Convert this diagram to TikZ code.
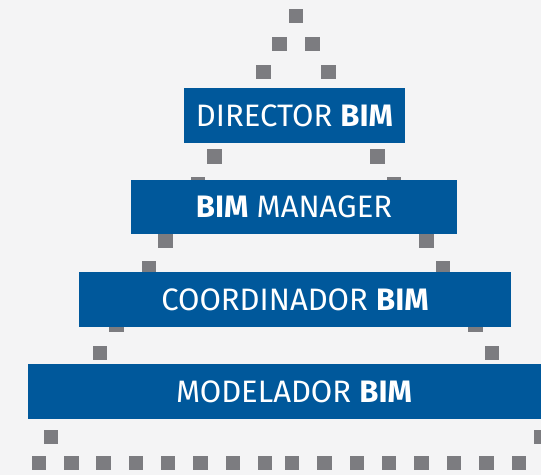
\documentclass[tikz,border=0pt]{standalone}
\usepackage{fontspec}
\setmainfont{Fira Sans}
\definecolor{bimblue}{RGB}{0,88,155}
\definecolor{sqgray}{RGB}{124,124,128}
\definecolor{bggray}{RGB}{244,244,245}
\begin{document}
\begin{tikzpicture}[x=1pt,y=-1pt,
  sq/.style={fill=sqgray},
  lvltext/.style={text=white,inner sep=0pt,font=\fontsize{31}{34}\selectfont},
  level/.style={lvltext,fill=bimblue,anchor=center}]
\useasboundingbox (0,0) rectangle (541,475);
\fill[bggray] (0,0) rectangle (541,475);
% diagonal squares
\foreach \n in {0,...,15}{
  \pgfmathsetmacro{\xl}{296-16.33*\n}
  \pgfmathsetmacro{\xr}{296+16.33*\n}
  \pgfmathsetmacro{\yy}{16+28.07*\n}
  \fill[sq] (\xl-7.25,\yy-7.25) rectangle ++(14.5,14.5);
  \fill[sq] (\xr-7.25,\yy-7.25) rectangle ++(14.5,14.5);
}
% bottom row
\foreach \k in {0,...,7}{
  \pgfmathsetmacro{\xa}{39+32.3*\k}
  \pgfmathsetmacro{\xb}{292+32.4*\k}
  \fill[sq] (\xa-7.25,463-7.25) rectangle ++(14.5,14.5);
  \fill[sq] (\xb-7.25,463-7.25) rectangle ++(14.5,14.5);
}
% boxes
\node[level,minimum width=221pt,minimum height=55pt] (director) at (294.5,115.5) {DIRECTOR \textbf{BIM}};
\node[level,minimum width=326pt,minimum height=54pt] (manager) at (294,207) {\textbf{BIM} MANAGER};
\node[level,minimum width=432pt,minimum height=55pt] (coord) at (295,299.5) {COORDINADOR \textbf{BIM}};
\fill[bimblue] (28,364) rectangle (545,419);
\node[lvltext] (model) at (294,391.5) {MODELADOR \textbf{BIM}};
\end{tikzpicture}
\end{document}
